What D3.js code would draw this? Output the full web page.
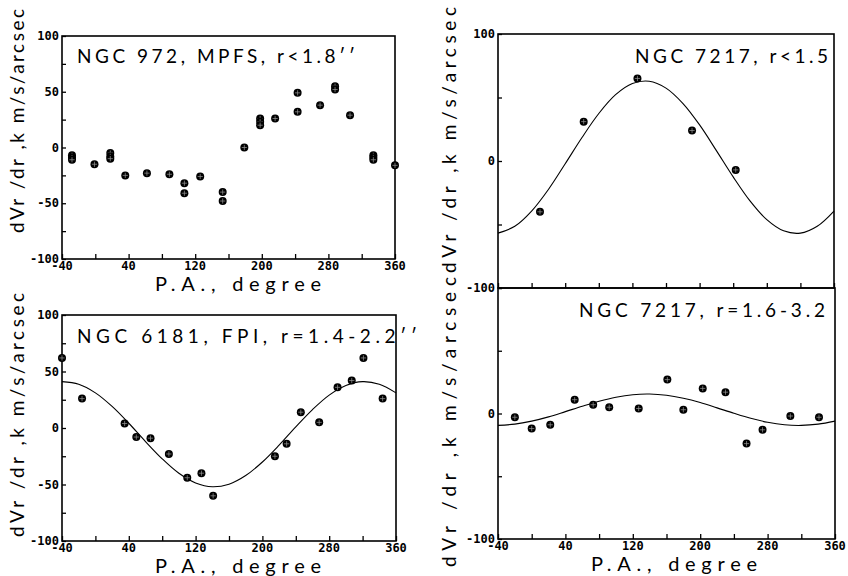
<!DOCTYPE html>
<html>
<head>
<meta charset="utf-8">
<script src="https://cdn.jsdelivr.net/npm/d3@7"></script>
<style>
  body { margin: 0; background: #fff; }
  svg { display: block; }
</style>
</head>
<body>
<div id="chart"></div>
<script>
// P.A. axis, shared by all four panels
var paTicks = [-40, 0, 40, 80, 120, 160, 200, 240, 280, 320, 360];
var paLabels = [-40, 40, 120, 200, 280, 360];

// NGC 972, MPFS, r<1.8''
var ngc972PA = [-28, -28, -28, -1, 18, 18, 18, 36, 62, 89, 107, 107, 126, 153, 153, 179,
                198, 198, 198, 216, 243, 243, 270, 288, 288, 306, 334, 334, 334, 360];
var ngc972V = [-7, -9, -11, -15, -5, -8, -10, -25, -23, -24, -32, -41, -26, -40, -48, 0,
               26, 23, 20, 26, 49, 32, 38, 55, 52, 29, -7, -9, -11, -16];

// NGC 7217, r<1.5
var ngc7217aPA = [10, 62, 126, 191, 243];
var ngc7217aV = [-40, 31, 65, 24, -7];

// NGC 6181, FPI, r=1.4-2.2''
var ngc6181PA = [-40, -16, 35, 49, 66, 88, 110, 127, 141, 215, 229, 246, 268, 290, 307, 321, 344];
var ngc6181V = [62, 26, 4, -8, -9, -23, -44, -40, -60, -25, -14, 14, 5, 36, 42, 62, 26];

// NGC 7217, r=1.6-3.2
var ngc7217bPA = [-20, 0, 22, 51, 73, 92, 127, 161, 180, 203, 230, 255, 274, 307, 341];
var ngc7217bV = [-3, -12, -9, 11, 7, 5, 4, 27, 3, 20, 17, -24, -13, -2, -3];

// fitted curves, every 20 degrees
var fitPA = [-40, -20, 0, 20, 40, 60, 80, 100, 120, 140, 160, 180, 200, 220, 240, 260, 280, 300, 320, 340, 360];
var ngc7217aFit = [-56.8, -51.4, -39.4, -22.4, -2.2, 18.5, 37.4, 52.2, 61.0, 62.8, 57.4, 45.4,
                   28.4, 8.2, -12.5, -31.4, -46.2, -55.0, -56.8, -51.4, -39.4];
var ngc6181Fit = [41.0, 38.7, 31.1, 19.1, 4.2, -12.0, -27.3, -40.1, -48.6, -52.0, -49.7, -42.1,
                  -30.1, -15.2, 1.0, 16.3, 29.1, 37.6, 41.0, 38.7, 31.1];
var ngc7217bFit = [-9.5, -8.5, -6.1, -2.7, 1.5, 5.8, 9.8, 13.0, 15.0, 15.5, 14.5, 12.1,
                   8.7, 4.5, 0.2, -3.8, -7.0, -9.0, -9.5, -8.5, -6.1];

var yLabel = "dVr /dr ,k m/s/arcsec";

var svg = d3.select("#chart").append("svg")
    .attr("width", 848)
    .attr("height", 576);

var tickFont = "'DejaVu Sans Mono', monospace";
var textFont = "Lato, 'Liberation Sans', sans-serif";

function zip(a, b) {
    return a.map(function (d, i) { return [d, b[i]]; });
}

function drawPanel(p) {

    var x = d3.scaleLinear().domain([-40, 360]).range([p.x0, p.x1]);
    var y = d3.scaleLinear().domain([-100, 100]).range([p.y1, p.y0]);

    var g = svg.append("g");

    // Bottom axis, ticks pointing inward
    var xAxis = d3.axisBottom(x)
        .tickValues(paTicks)
        .tickSize(-5)
        .tickFormat("");
    var gx = g.append("g")
        .attr("transform", "translate(0," + p.y1 + ")")
        .call(xAxis);
    gx.select(".domain").remove();
    gx.selectAll("line").attr("stroke", "#000").attr("stroke-width", 1.3);

    if (p.xLabels) {
        g.selectAll(".xl").data(paLabels).enter().append("text")
            .attr("x", function (d) { return x(d); })
            .attr("y", p.y1 + 11)
            .attr("text-anchor", "middle")
            .style("font-family", tickFont)
            .style("font-weight", "bold")
            .style("font-size", "12px")
            .text(function (d) { return d; });

        g.append("text")
            .attr("x", p.xTitle)
            .attr("y", p.y1 + 32)
            .attr("text-anchor", "middle")
            .attr("textLength", 166)
            .attr("lengthAdjust", "spacing")
            .style("font-family", textFont)
            .style("font-size", "20px")
            .text("P.A., degree");
    }

    // Left axis, ticks pointing inward
    var yAxis = d3.axisLeft(y)
        .tickValues(p.yTicks)
        .tickSize(-4)
        .tickFormat("");
    var gy = g.append("g")
        .attr("transform", "translate(" + p.x0 + ",0)")
        .call(yAxis);
    gy.select(".domain").remove();
    gy.selectAll("line").attr("stroke", "#000").attr("stroke-width", 1.3);

    g.selectAll(".yl").data(p.yLabels).enter().append("text")
        .attr("x", p.x0 - 3)
        .attr("y", function (d) { return y(d) + 4; })
        .attr("text-anchor", "end")
        .style("font-family", tickFont)
        .style("font-weight", "bold")
        .style("font-size", "12px")
        .text(function (d) { return d; });

    // Frame
    g.append("rect")
        .attr("x", p.x0)
        .attr("y", p.y0)
        .attr("width", p.x1 - p.x0)
        .attr("height", p.y1 - p.y0)
        .attr("fill", "none")
        .attr("stroke", "#000")
        .attr("stroke-width", 1.6);

    // Fit curve
    if (p.fit) {
        var line = d3.line()
            .x(function (d) { return x(d[0]); })
            .y(function (d) { return y(d[1]); })
            .curve(d3.curveCatmullRom);
        g.append("path")
            .datum(zip(fitPA, p.fit))
            .attr("d", line)
            .attr("fill", "none")
            .attr("stroke", "#000")
            .attr("stroke-width", 1.1);
    }

    // Points: dark circles with a cross
    var pts = g.selectAll(".pt").data(zip(p.pa, p.v)).enter().append("g")
        .attr("transform", function (d) { return "translate(" + x(d[0]) + "," + y(d[1]) + ")"; });
    pts.append("circle")
        .attr("r", 4)
        .attr("fill", "#000");
    pts.append("path")
        .attr("d", "M-2.6,0H2.6M0,-2.6V2.6")
        .attr("stroke", "#999")
        .attr("stroke-width", 0.7);

    // Panel title
    g.append("text")
        .attr("x", p.tx)
        .attr("y", p.ty)
        .attr("textLength", p.tw)
        .attr("lengthAdjust", "spacing")
        .style("font-family", textFont)
        .style("font-size", "19px")
        .text(p.title);
}

function drawYTitle(cx, cy, len) {
    svg.append("text")
        .attr("transform", "translate(" + cx + "," + cy + ") rotate(-90)")
        .attr("text-anchor", "middle")
        .attr("textLength", len)
        .attr("lengthAdjust", "spacing")
        .style("font-family", textFont)
        .style("font-size", "19px")
        .text(yLabel);
}

var fineY = [-100, -75, -50, -25, 0, 25, 50, 75, 100];
var coarseY = [-100, -50, 0, 50, 100];

drawPanel({
    x0: 62, x1: 395, y0: 36, y1: 259,
    yTicks: fineY, yLabels: [100, 50, 0, -50, -100],
    xLabels: true, xTitle: 238,
    pa: ngc972PA, v: ngc972V, fit: null,
    title: "NGC 972, MPFS, r<1.8\u2032\u2032", tx: 77, ty: 63, tw: 278
});

drawPanel({
    x0: 498, x1: 834, y0: 34, y1: 288,
    yTicks: coarseY, yLabels: [100, 0, -100],
    xLabels: false,
    pa: ngc7217aPA, v: ngc7217aV, fit: ngc7217aFit,
    title: "NGC 7217, r<1.5", tx: 635, ty: 63, tw: 193
});

drawPanel({
    x0: 62, x1: 396, y0: 315, y1: 541,
    yTicks: fineY, yLabels: [100, 50, 0, -50, -100],
    xLabels: true, xTitle: 238,
    pa: ngc6181PA, v: ngc6181V, fit: ngc6181Fit,
    title: "NGC 6181, FPI, r=1.4-2.2\u2032\u2032", tx: 77, ty: 343, tw: 340
});

drawPanel({
    x0: 498, x1: 835, y0: 288, y1: 539,
    yTicks: coarseY, yLabels: [0, -100],
    xLabels: true, xTitle: 674,
    pa: ngc7217bPA, v: ngc7217bV, fit: ngc7217bFit,
    title: "NGC 7217, r=1.6-3.2", tx: 579, ty: 317, tw: 246
});

drawYTitle(24, 121, 224);
drawYTitle(24, 415, 244);
drawYTitle(456, 140, 266);
drawYTitle(456, 422, 290);
</script>
</body>
</html>
